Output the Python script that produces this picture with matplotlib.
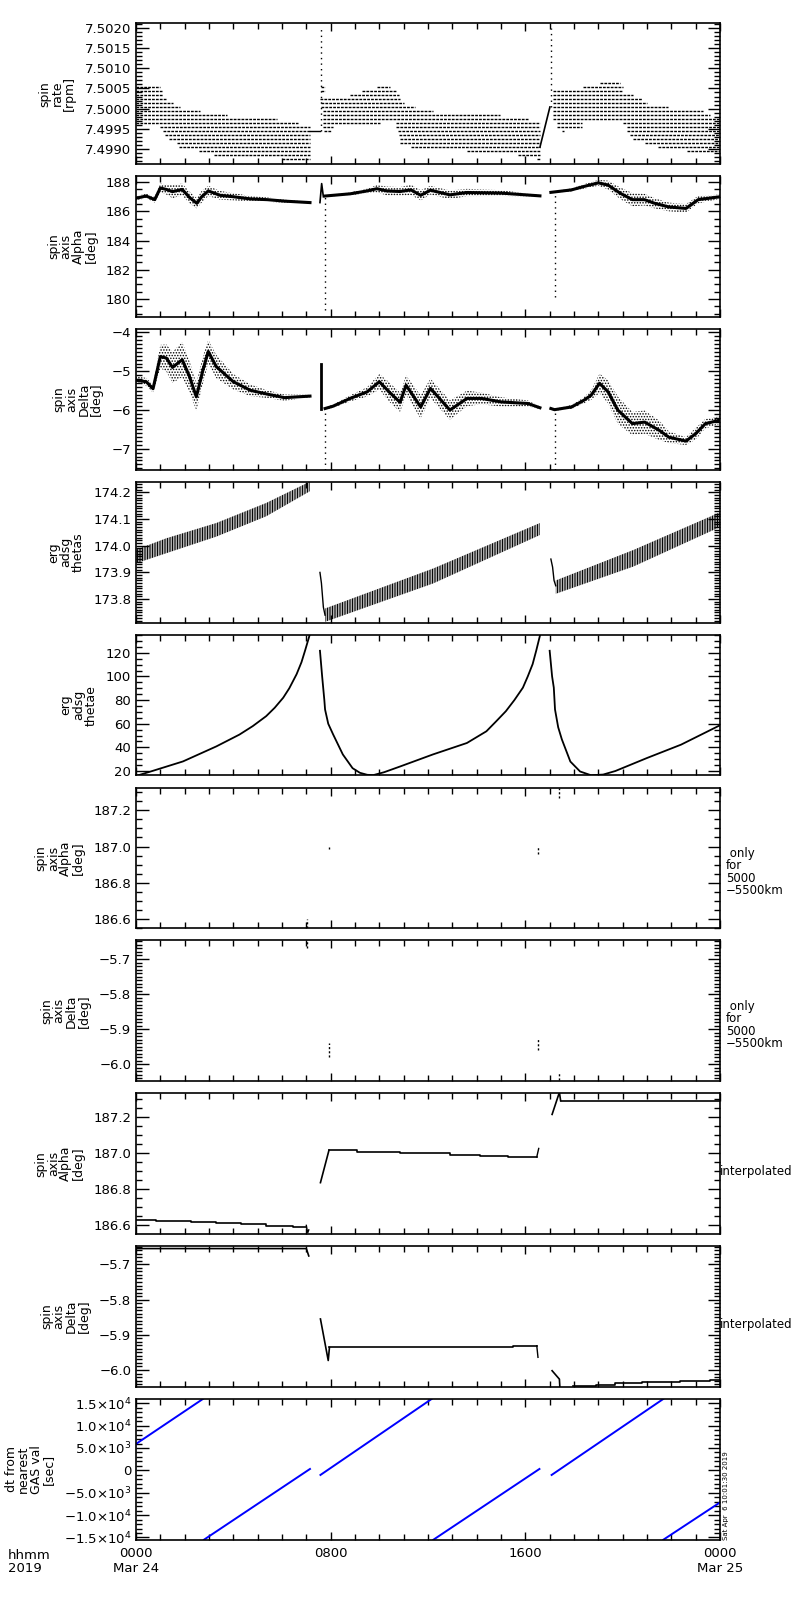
import numpy as np
import matplotlib
matplotlib.use("Agg")
import matplotlib.pyplot as plt
from matplotlib.ticker import MultipleLocator, FixedLocator, FixedFormatter, FuncFormatter

plt.rcParams['font.family'] = ['DejaVu Sans']
plt.rcParams['hatch.linewidth'] = 0.7

# ---------------- data (time in hours from 2019-03-24 00:00) ----------------
# Panel 1: spin rate, quantised levels drawn as dotted horizontal runs
rate_lvl = [7.50054, 7.50044, 7.50034, 7.50024, 7.50014, 7.50004, 7.49994, 7.49984, 7.49974, 7.49964,
            7.49954, 7.49944, 7.49934, 7.49924, 7.49914, 7.49904, 7.49894, 7.49884, 7.49874,
            # section 2
            7.50054, 7.50054, 7.50044, 7.50044, 7.50034, 7.50024, 7.50014, 7.50004, 7.49994, 7.49984,
            7.49974, 7.49964, 7.49964, 7.49954, 7.49954, 7.49944, 7.49944, 7.49934, 7.49924, 7.49914,
            7.49904, 7.49894, 7.49884, 7.49874,
            # section 3
            7.50064, 7.50054, 7.50044, 7.50034, 7.50024, 7.50014, 7.50004, 7.49994, 7.49984, 7.49974,
            7.49964, 7.49964, 7.49954, 7.49954, 7.49944, 7.49944, 7.49934, 7.49924, 7.49914, 7.49904,
            7.49894]
rate_t0 = [0.0, 0.0, 0.0, 0.0, 0.0, 0.0, 0.0, 0.0, 0.0, 0.0,
           0.99, 1.12, 1.2, 1.35, 1.7, 1.75, 2.6, 3.2, 6.0,
           7.62, 9.9, 7.62, 9.27, 8.8, 7.58, 7.62, 7.62, 7.7, 7.7,
           7.7, 7.7, 10.7, 7.7, 10.7, 7.72, 10.75, 10.8, 10.85, 10.85,
           11.3, 13.59, 15.71, 16.47,
           19.07, 18.39, 17.15, 17.15, 17.15, 17.15, 17.15, 17.15, 17.15, 17.15,
           17.29, 20.03, 17.29, 20.17, 17.5, 20.17, 20.31, 20.44, 20.92, 21.47,
           22.63]
rate_t1 = [0.99, 1.06, 1.12, 1.26, 1.53, 1.81, 2.63, 3.72, 5.78, 6.67,
           7.15, 7.15, 7.15, 7.15, 7.15, 7.15, 7.15, 7.15, 7.15,
           7.75, 10.44, 7.75, 10.7, 10.8, 10.85, 11.0, 11.47, 12.22, 14.96,
           16.12, 10.03, 16.6, 8.1, 16.6, 8.0, 16.6, 16.6, 16.6, 16.6,
           16.6, 16.6, 16.6, 16.6,
           19.9, 20.03, 20.03, 20.44, 20.79, 20.99, 21.88, 23.32, 23.59, 24.0,
           18.32, 24.0, 18.32, 24.0, 17.6, 24.0, 24.0, 24.0, 24.0, 24.0,
           24.0]
rate_link_t = [7.15, 7.56]
rate_link_v = [7.49944, 7.49944]
rate_ramp_t = [16.6, 17.01]
rate_ramp_v = [7.49904, 7.50004]
rate_spike_t = [7.6, 17.05]
rate_spike_lo = [7.49944, 7.50004]
rate_spike_hi = [7.50200, 7.50200]

# Panel 2: spin axis alpha (core + spread)
alpha1_t = [0, 0.42, 0.77, 1.0, 1.25, 1.5, 1.9, 2.2, 2.5, 2.7, 2.97, 3.45, 4.0, 4.7, 5.4, 6.1, 7.15]
alpha1_v = [186.9, 187.05, 186.8, 187.6, 187.5, 187.35, 187.5, 186.95, 186.55, 187.0, 187.4, 187.1, 187.0, 186.85, 186.8, 186.7, 186.6]
alpha1_s = [0.15, 0.15, 0.2, 0.3, 0.35, 0.45, 0.4, 0.4, 0.35, 0.4, 0.35, 0.3, 0.25, 0.2, 0.15, 0.1, 0.05]
alpha2_t = [7.77, 8.8, 9.5, 9.9, 10.3, 10.85, 11.3, 11.7, 12.1, 12.9, 13.6, 15.0, 16.6]
alpha2_v = [187.05, 187.2, 187.4, 187.55, 187.4, 187.36, 187.47, 187.1, 187.45, 187.13, 187.29, 187.25, 187.06]
alpha2_s = [0.05, 0.1, 0.15, 0.25, 0.3, 0.3, 0.35, 0.35, 0.3, 0.3, 0.25, 0.2, 0.05]
alpha3_t = [17.05, 17.9, 18.4, 19.0, 19.4, 19.9, 20.4, 20.9, 21.3, 21.9, 22.6, 23.1, 24.0]
alpha3_v = [187.3, 187.47, 187.7, 187.95, 187.8, 187.24, 186.8, 186.8, 186.56, 186.3, 186.2, 186.8, 187.0]
alpha3_s = [0.05, 0.1, 0.15, 0.2, 0.3, 0.4, 0.45, 0.4, 0.35, 0.3, 0.3, 0.25, 0.15]
alpha_spk_t = [7.56, 7.63, 7.7]
alpha_spk_v = [186.6, 187.9, 187.0]
alpha_drop_t = [7.77, 17.2]
alpha_drop_hi = [187.0, 187.3]
alpha_drop_lo = [179.25, 180.15]

# Panel 3: spin axis delta
delta1_t = [0, 0.42, 0.7, 1.0, 1.25, 1.5, 1.9, 2.2, 2.48, 2.75, 2.97, 3.3, 4.0, 4.7, 5.4, 6.1, 7.15]
delta1_v = [-5.23, -5.27, -5.45, -4.62, -4.66, -4.9, -4.7, -5.14, -5.66, -4.97, -4.49, -4.88, -5.27, -5.49, -5.59, -5.68, -5.64]
delta1_s = [0.1, 0.1, 0.1, 0.3, 0.35, 0.4, 0.45, 0.4, 0.35, 0.35, 0.3, 0.3, 0.2, 0.15, 0.1, 0.08, 0.03]
delta2_t = [7.77, 8.1, 8.8, 9.5, 10.0, 10.4, 10.85, 11.1, 11.7, 12.1, 12.9, 13.6, 14.2, 15.0, 16.1, 16.6]
delta2_v = [-5.96, -5.9, -5.7, -5.53, -5.27, -5.53, -5.8, -5.36, -5.92, -5.44, -6.0, -5.7, -5.7, -5.79, -5.83, -5.94]
delta2_s = [0.03, 0.04, 0.08, 0.12, 0.2, 0.25, 0.25, 0.25, 0.3, 0.25, 0.25, 0.2, 0.15, 0.12, 0.08, 0.03]
delta3_t = [17.05, 17.2, 17.9, 18.4, 18.7, 19.05, 19.4, 19.8, 20.4, 20.9, 21.5, 21.9, 22.6, 23.0, 23.4, 24.0]
delta3_v = [-5.96, -5.99, -5.92, -5.75, -5.62, -5.31, -5.53, -6.0, -6.35, -6.31, -6.52, -6.7, -6.8, -6.61, -6.35, -6.26]
delta3_s = [0.03, 0.03, 0.05, 0.08, 0.12, 0.25, 0.3, 0.35, 0.3, 0.3, 0.25, 0.15, 0.1, 0.15, 0.12, 0.1]
delta_spk_t = [7.6, 7.6]
delta_spk_v = [-5.96, -4.82]
delta_drop_t = [7.77, 17.2]
delta_drop_hi = [-5.96, -5.96]
delta_drop_lo = [-7.54, -7.54]

# Panel 4: thetas (oscillating band)
thetas1_t = [0, 1.25, 3.3, 5.35, 7.15]
thetas1_hi = [173.985, 174.028, 174.085, 174.16, 174.24]
thetas1_lo = [173.934, 173.972, 174.034, 174.11, 174.204]
thetas2_t = [7.77, 12.22, 16.6]
thetas2_hi = [173.765, 173.915, 174.085]
thetas2_lo = [173.715, 173.859, 174.04]
thetas3_t = [17.25, 20.44, 24.0]
thetas3_hi = [173.87, 173.984, 174.125]
thetas3_lo = [173.82, 173.922, 174.07]
thetas_a_t = [7.56, 7.62, 7.7, 7.77]
thetas_a_v = [173.9, 173.86, 173.77, 173.74]
thetas_b_t = [17.05, 17.12, 17.18, 17.25]
thetas_b_v = [173.95, 173.92, 173.87, 173.85]

# Panel 5: thetae
thetae1_t = [0.08, 0.7, 1.93, 3.3, 4.25, 4.8, 5.35, 5.7, 6.05, 6.3, 6.6, 6.8, 6.95, 7.05, 7.15]
thetae1_v = [16.3, 20.2, 28.1, 40.8, 50.8, 58.0, 66.4, 73.5, 82.0, 90.0, 101.9, 112.0, 122.0, 129.0, 136.0]
thetae2_t = [7.56, 7.65, 7.74, 7.77, 7.9, 8.1, 8.5, 8.9, 9.2, 9.5, 9.75, 10.2, 10.85, 12.2, 13.6,
             14.4, 14.8, 15.2, 15.55, 15.9, 16.1, 16.3, 16.45, 16.6]
thetae2_v = [121.7, 100.0, 80.0, 72.0, 60.0, 51.0, 34.0, 22.4, 18.5, 16.8, 16.5, 19.0, 23.8, 34.0, 43.7,
             53.6, 62.0, 70.6, 80.0, 90.5, 100.0, 110.4, 122.0, 134.5]
thetae3_t = [17.0, 17.1, 17.17, 17.22, 17.35, 17.5, 17.85, 18.25, 18.7, 19.2, 19.7, 21.0, 22.4, 24.0]
thetae3_v = [121.7, 100.0, 90.5, 72.0, 57.0, 46.8, 28.0, 19.6, 16.4, 17.0, 20.0, 31.0, 42.3, 58.7]

# Panels 6, 7: only for 5000-5500 km (short clusters)
onlyA_t = [7.04, 7.95, 16.52, 17.4]
onlyA_lo = [186.55, 186.985, 186.96, 187.27]
onlyA_hi = [186.60, 187.0, 187.0, 187.325]
onlyD_t = [7.04, 7.95, 16.52, 17.4]
onlyD_lo = [-5.67, -5.98, -5.96, -6.045]
onlyD_hi = [-5.65, -5.94, -5.925, -6.025]

# Panel 8: interpolated alpha
ialpha1_t = [0, 0.84, 2.27, 3.30, 4.33, 5.36, 6.45, 7.0]
ialpha1_v = [186.627, 186.622, 186.616, 186.611, 186.605, 186.598, 186.592, 186.592]
ialpha1w_t = [7.0, 7.03, 7.06, 7.1]
ialpha1w_v = [186.6, 186.575, 186.56, 186.575]
ialpha2r_t = [7.58, 7.93]
ialpha2r_v = [186.836, 187.015]
ialpha2_t = [7.93, 9.07, 10.85, 11.67, 12.9, 14.14, 15.3, 16.47]
ialpha2_v = [187.015, 187.008, 187.002, 186.999, 186.991, 186.984, 186.978, 186.978]
ialpha2u_t = [16.47, 16.55]
ialpha2u_v = [186.978, 187.025]
ialpha3r_t = [17.1, 17.4, 17.45]
ialpha3r_v = [187.213, 187.335, 187.289]
ialpha3_t = [17.45, 24.0]
ialpha3_v = [187.289, 187.289]

# Panel 9: interpolated delta
idelta1_t = [0, 7.0, 7.1]
idelta1_v = [-5.655, -5.655, -5.676]
idelta2r_t = [7.58, 7.9, 7.95]
idelta2r_v = [-5.855, -5.973, -5.936]
idelta2_t = [7.95, 15.5, 16.47]
idelta2_v = [-5.936, -5.931, -5.931]
idelta2d_t = [16.47, 16.52]
idelta2d_v = [-5.931, -5.964]
idelta3r_t = [17.1, 17.4, 17.42]
idelta3r_v = [-6.002, -6.026, -6.05]
idelta3_t = [17.95, 18.9, 19.7, 20.8, 22.35, 23.6, 24.0]
idelta3_v = [-6.0447, -6.0419, -6.0381, -6.0352, -6.0324, -6.0286, -6.0286]

# Panel 10: dt from nearest GAS value [sec]
dt_seg_t0 = [0.0, 2.79, 7.58, 12.22, 17.08, 21.67]
dt_seg_t1 = [2.75, 7.15, 12.15, 16.58, 21.67, 24.0]
dt_seg_v0 = [5910, -15515, -1030, -15515, -1030, -15515]
dt_seg_v1 = [15963, 310, 15963, 310, 15963, -7170]

ylabels = ["spin\nrate\n[rpm]", "spin\naxis\nAlpha\n[deg]", "spin\naxis\nDelta\n[deg]",
           "erg\nadsg\nthetas", "erg\nadsg\nthetae", "spin\naxis\nAlpha\n[deg]",
           "spin\naxis\nDelta\n[deg]", "spin\naxis\nAlpha\n[deg]", "spin\naxis\nDelta\n[deg]",
           "dt from\nnearest\nGAS val\n[sec]"]
ylims = [(7.49862, 7.50212), (178.77, 188.41), (-7.54, -3.91), (173.712, 174.239), (16.2, 135.3),
         (186.549, 187.325), (-6.048, -5.647), (186.552, 187.33), (-6.048, -5.648), (-15515, 15963)]
ymajor = [0.0005, 2, 1, 0.1, 20, 0.2, 0.1, 0.2, 0.1, 5000]
yminor = [0.0001, 0.5, 0.1, 0.01, 5, 0.05, 0.01, 0.05, 0.01, 1000]
yfmt = ['%.4f', '%d', '%d', '%.1f', '%d', '%.1f', '%.1f', '%.1f', '%.1f', None]
dt_ticks = [-15000, -10000, -5000, 0, 5000, 10000, 15000]
dt_labels = ['\u22121.5\u00d710$^{4}$', '\u22121.0\u00d710$^{4}$', '\u22125.0\u00d710$^{3}$', '0',
             '5.0\u00d710$^{3}$', '1.0\u00d710$^{4}$', '1.5\u00d710$^{4}$']
xtick_pos = [0, 8, 16, 24]
xtick_lab = ['0000\nMar 24', '0800', '1600', '0000\nMar 25']
right_notes = {5: ' only\nfor\n5000\n\u22125500km', 6: ' only\nfor\n5000\n\u22125500km',
               7: 'interpolated', 8: 'interpolated'}


def make_fmt(f):
    return FuncFormatter(lambda v, p: (f % v).replace('-', '\u2212'))


# ---------------- figure ----------------
W, H = 800, 1600
fig = plt.figure(figsize=(8, 16), dpi=100)
left, width = 136, 584
top0, pitch, ph = 23.3, 152.85, 140.8
axes = []
for i in range(10):
    top = top0 + i * pitch
    ax = fig.add_axes([left / W, 1 - (top + ph) / H, width / W, ph / H])
    axes.append(ax)
    ax.set_xlim(0, 24)
    ax.set_ylim(*ylims[i])
    ax.xaxis.set_major_locator(FixedLocator(xtick_pos))
    ax.xaxis.set_minor_locator(MultipleLocator(1))
    if i == 9:
        ax.yaxis.set_major_locator(FixedLocator(dt_ticks))
        ax.yaxis.set_major_formatter(FixedFormatter(dt_labels))
    else:
        ax.yaxis.set_major_locator(MultipleLocator(ymajor[i]))
        ax.yaxis.set_major_formatter(make_fmt(yfmt[i]))
    ax.yaxis.set_minor_locator(MultipleLocator(yminor[i]))
    ax.tick_params(axis='both', which='both', direction='in', top=True, right=True,
                   labelsize=9.5, width=1.0, color='k')
    ax.tick_params(axis='y', which='major', length=9)
    ax.tick_params(axis='y', which='minor', length=4.5)
    ax.tick_params(axis='x', which='major', length=6)
    ax.tick_params(axis='x', which='minor', length=4)
    for sp in ax.spines.values():
        sp.set_linewidth(1.2)
    if i == 9:
        ax.set_xticklabels(xtick_lab)
        ax.tick_params(axis='x', which='major', pad=5)
    else:
        ax.set_xticklabels([])
    ax.set_ylabel(ylabels[i], fontsize=9, linespacing=0.95, labelpad=6)
    if i in right_notes:
        yc = 1 - (top + ph / 2 + (14 if i < 7 else 8)) / H
        xx = (left + width + (6 if i < 7 else 0)) / W
        fig.text(xx, yc, right_notes[i], fontsize=8.5, linespacing=0.95,
                 ha='left', va='center')

# Panel 1
ax = axes[0]
ax.hlines(rate_lvl, rate_t0, rate_t1, colors='k', linewidth=1.0, linestyles=[(0, (2.0, 0.8))])
ax.plot(rate_link_t, rate_link_v, color='k', lw=1.0)
ax.plot(rate_ramp_t, rate_ramp_v, color='k', lw=1.2)
ax.vlines(rate_spike_t, rate_spike_lo, rate_spike_hi, colors='k', linewidth=1.0, linestyles=[(0, (1, 3))])


# Panels 2 and 3: banded scatter
def band(ax, t, v, s):
    t = np.asarray(t); v = np.asarray(v); s = np.asarray(s)
    ax.fill_between(t, v - s, v + s, facecolor='none', edgecolor='k', hatch='......', linewidth=0)
    ax.plot(t, v, color='k', lw=2.2, solid_joinstyle='round')


ax = axes[1]
for t, v, s in [(alpha1_t, alpha1_v, alpha1_s), (alpha2_t, alpha2_v, alpha2_s), (alpha3_t, alpha3_v, alpha3_s)]:
    band(ax, t, v, s)
ax.plot(alpha_spk_t, alpha_spk_v, color='k', lw=1.2)
ax.vlines(alpha_drop_t, alpha_drop_lo, alpha_drop_hi, colors='k', linewidth=1.0, linestyles=[(0, (1, 3))])

ax = axes[2]
for t, v, s in [(delta1_t, delta1_v, delta1_s), (delta2_t, delta2_v, delta2_s), (delta3_t, delta3_v, delta3_s)]:
    band(ax, t, v, s)
ax.plot(delta_spk_t, delta_spk_v, color='k', lw=2.0)
ax.vlines(delta_drop_t, delta_drop_lo, delta_drop_hi, colors='k', linewidth=1.0, linestyles=[(0, (1, 3))])

# Panel 4
ax = axes[3]
for t, lo, hi in [(thetas1_t, thetas1_lo, thetas1_hi), (thetas2_t, thetas2_lo, thetas2_hi), (thetas3_t, thetas3_lo, thetas3_hi)]:
    ax.fill_between(t, lo, hi, facecolor='none', edgecolor='k', hatch='||||||||||', linewidth=0)
ax.plot(thetas_a_t, thetas_a_v, color='k', lw=1.0)
ax.plot(thetas_b_t, thetas_b_v, color='k', lw=1.0)

# Panel 5
ax = axes[4]
for t, v in [(thetae1_t, thetae1_v), (thetae2_t, thetae2_v), (thetae3_t, thetae3_v)]:
    ax.plot(t, v, color='k', lw=1.3)

# Panels 6, 7
axes[5].vlines(onlyA_t, onlyA_lo, onlyA_hi, colors='k', linewidth=1.0, linestyles=[(0, (1.5, 1.5))])
axes[6].vlines(onlyD_t, onlyD_lo, onlyD_hi, colors='k', linewidth=1.0, linestyles=[(0, (1.5, 1.5))])

# Panel 8
ax = axes[7]
ax.plot(ialpha1_t, ialpha1_v, color='k', lw=1.2, drawstyle='steps-post')
ax.plot(ialpha1w_t, ialpha1w_v, color='k', lw=1.0)
ax.plot(ialpha2r_t, ialpha2r_v, color='k', lw=1.2)
ax.plot(ialpha2_t, ialpha2_v, color='k', lw=1.2, drawstyle='steps-post')
ax.plot(ialpha2u_t, ialpha2u_v, color='k', lw=1.0)
ax.plot(ialpha3r_t, ialpha3r_v, color='k', lw=1.2)
ax.plot(ialpha3_t, ialpha3_v, color='k', lw=1.2)

# Panel 9
ax = axes[8]
ax.plot(idelta1_t, idelta1_v, color='k', lw=1.2)
ax.plot(idelta2r_t, idelta2r_v, color='k', lw=1.2)
ax.plot(idelta2_t, idelta2_v, color='k', lw=1.2, drawstyle='steps-post')
ax.plot(idelta2d_t, idelta2d_v, color='k', lw=1.0)
ax.plot(idelta3r_t, idelta3r_v, color='k', lw=1.2)
ax.plot(idelta3_t, idelta3_v, color='k', lw=1.2, drawstyle='steps-post')

# Panel 10
ax = axes[9]
for a, b, c, d in zip(dt_seg_t0, dt_seg_t1, dt_seg_v0, dt_seg_v1):
    ax.plot([a, b], [c, d], color='#0000ff', lw=1.4)

fig.text(8 / W, 1 - 1562 / H, 'hhmm\n2019', fontsize=9.5, ha='left', va='center', linespacing=0.95)
fig.text(723 / W, 1 - 1496 / H, 'Sat Apr  6 10:01:30 2019', fontsize=5, rotation=90,
         ha='left', va='center')

fig.savefig('out.png', dpi=100)
